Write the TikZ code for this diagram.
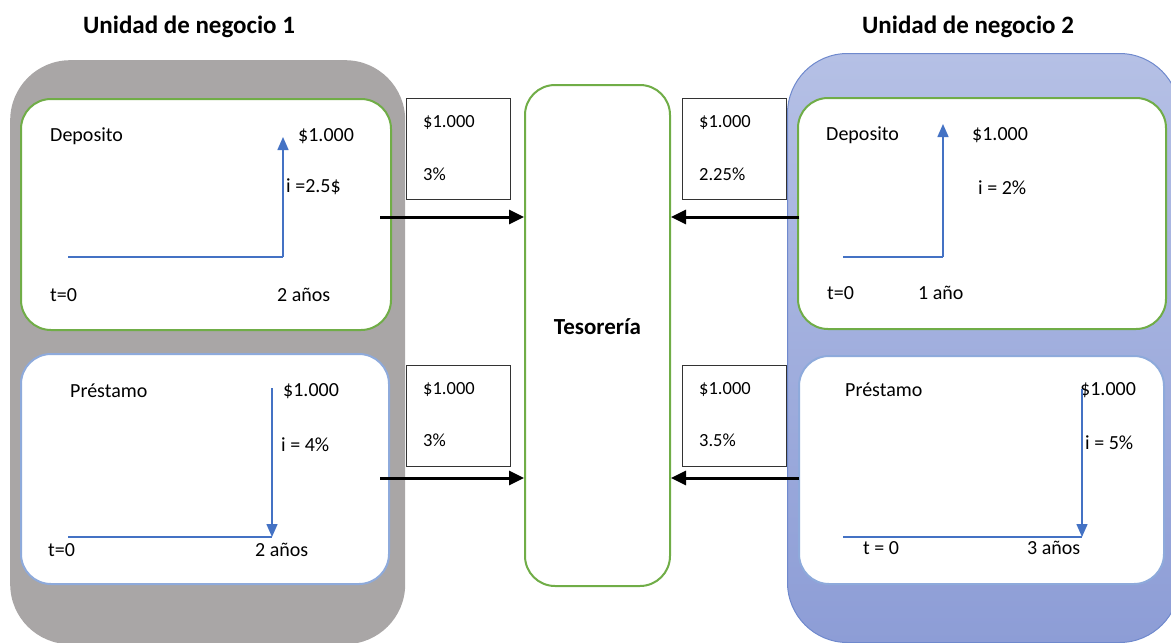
\documentclass[tikz,border=0pt]{standalone}
\usepackage{fontspec}
\setmainfont{Carlito}
\usetikzlibrary{arrows.meta,calc}
\definecolor{leafgreen}{HTML}{70AD47}
\definecolor{paleblue}{HTML}{8EAADB}
\definecolor{flowblue}{HTML}{4472C4}
\definecolor{unitgray}{HTML}{A9A6A6}
\definecolor{unitbluetop}{HTML}{B5C0E5}
\definecolor{unitbluebot}{HTML}{8D9DD6}
\definecolor{unitblueedge}{HTML}{6F89CD}
\tikzset{
  panel/.style={anchor=north west, rounded corners=60pt, inner sep=0pt},
  greenbox/.style={anchor=north west, draw=leafgreen, line width=2pt, fill=white, rounded corners=30pt, inner sep=0pt},
  bluebox/.style={anchor=north west, draw=paleblue, line width=2pt, fill=white, rounded corners=30pt, inner sep=0pt},
  ratebox/.style={anchor=north west, draw=black!80, line width=1pt, fill=white, minimum width=104pt, minimum height=101pt, inner sep=0pt},
  txt/.style={anchor=west, inner sep=0pt, font=\fontsize{20}{24}\selectfont},
  smalltxt/.style={anchor=west, inner sep=0pt, font=\fontsize{18.5}{22}\selectfont},
  title/.style={inner sep=0pt, font=\fontsize{25}{30}\selectfont\bfseries},
  flow/.style={draw=flowblue, line width=1.5pt},
  flowarrow/.style={flow, -{Triangle[width=11pt,length=13pt]}},
  transfer/.style={draw=black, line width=3pt, -{Triangle[width=14pt,length=15pt]}}
}
\begin{document}
\begin{tikzpicture}[x=1pt,y=-1pt]
\useasboundingbox (0,0) rectangle (1171,643);
\begin{scope}
\clip (0,0) rectangle (1171,643);
% business unit panels
\node[panel, fill=unitgray, minimum width=395pt, minimum height=584pt] (u1) at (10,60) {};
\node[panel, draw=unitblueedge, line width=1pt, top color=unitbluetop, bottom color=unitbluebot, minimum width=392pt, minimum height=589pt] (u2) at (787,53) {};
\end{scope}

% titles
\node[title] (t1) at (189,27) {Unidad de negocio 1};
\node[title] (t2) at (968,27) {Unidad de negocio 2};

% inner cards
\node[greenbox, minimum width=370pt, minimum height=231pt] (lt) at (20,98) {};
\node[bluebox, minimum width=368pt, minimum height=230pt] (lb) at (20,353) {};
\node[greenbox, minimum width=368pt, minimum height=231pt] (rt) at (797,97) {};
\node[bluebox, minimum width=365pt, minimum height=228pt] (rb) at (798,355) {};

% treasury
\node[greenbox, minimum width=145pt, minimum height=501pt] (tes) at (524,84) {};
\node[title, font=\fontsize{23}{27}\selectfont\bfseries] (testxt) at ($(tes.center)+(0,-9)$) {Tesorería};

% transfer rate boxes
\node[ratebox] (r1) at (406,98) {};
\node[ratebox] (r2) at (682,98) {};
\node[ratebox] (r3) at (406,365) {};
\node[ratebox] (r4) at (682,365) {};
\node[smalltxt] (r1a) at (423,123) {\$1.000};
\node[smalltxt] (r1b) at (423,174) {3\%};
\node[smalltxt] (r2a) at (699,123) {\$1.000};
\node[smalltxt] (r2b) at (699,174) {2.25\%};
\node[smalltxt] (r3a) at (423,390) {\$1.000};
\node[smalltxt] (r3b) at (423,440) {3\%};
\node[smalltxt] (r4a) at (699,390) {\$1.000};
\node[smalltxt] (r4b) at (699,440) {3.5\%};

% transfers into the treasury
\coordinate (s1) at (380,217);
\coordinate (s2) at (799,217);
\coordinate (s3) at (380,478);
\coordinate (s4) at (799,478);
\draw[transfer] (s1) -- (s1 -| tes.west);
\draw[transfer] (s2) -- (s2 -| tes.east);
\draw[transfer] (s3) -- (s3 -| tes.west);
\draw[transfer] (s4) -- (s4 -| tes.east);

% unit 1, deposit
\node[txt] (lt1) at (50,136) {Deposito};
\node[txt] (lt2) at (298,136) {\$1.000};
\node[txt] (lt3) at (286,187) {i =2.5\$};
\node[txt] (lt4) at (50,295) {t=0};
\node[txt] (lt5) at (277,295) {2 años};
\coordinate (lta) at (68,257);
\coordinate (ltb) at (283,257);
\coordinate (ltc) at (283,137);
\draw[flow] (lta) -- (ltb);
\draw[flowarrow] (ltb) -- (ltc);

% unit 1, loan
\node[txt] (lb1) at (70,391) {Préstamo};
\node[txt] (lb2) at (283,391) {\$1.000};
\node[txt] (lb3) at (281,445) {i = 4\%};
\node[txt] (lb4) at (48,550) {t=0};
\node[txt] (lb5) at (255,550) {2 años};
\coordinate (lba) at (68,537);
\coordinate (lbb) at (272,537);
\coordinate (lbc) at (272,388);
\draw[flow] (lba) -- (lbb);
\draw[flowarrow] (lbc) -- (lbb);

% unit 2, deposit
\node[txt] (rt1) at (826,135) {Deposito};
\node[txt] (rt2) at (972,135) {\$1.000};
\node[txt] (rt3) at (978,188) {i = 2\%};
\node[txt] (rt4) at (827,293) {t=0};
\node[txt] (rt5) at (918,293) {1 año};
\coordinate (rta) at (843,257);
\coordinate (rtb) at (943,257);
\coordinate (rtc) at (943,124);
\draw[flow] (rta) -- (rtb);
\draw[flowarrow] (rtb) -- (rtc);

% unit 2, loan
\node[txt] (rb1) at (845,390) {Préstamo};
\node[txt] (rb2) at (1080,390) {\$1.000};
\node[txt] (rb3) at (1085,443) {i = 5\%};
\node[txt] (rb4) at (863,548) {t = 0};
\node[txt] (rb5) at (1027,548) {3 años};
\coordinate (rba) at (843,537);
\coordinate (rbb) at (1082,537);
\coordinate (rbc) at (1082,389);
\draw[flow] (rba) -- (rbb);
\draw[flowarrow] (rbc) -- (rbb);
\end{tikzpicture}
\end{document}
